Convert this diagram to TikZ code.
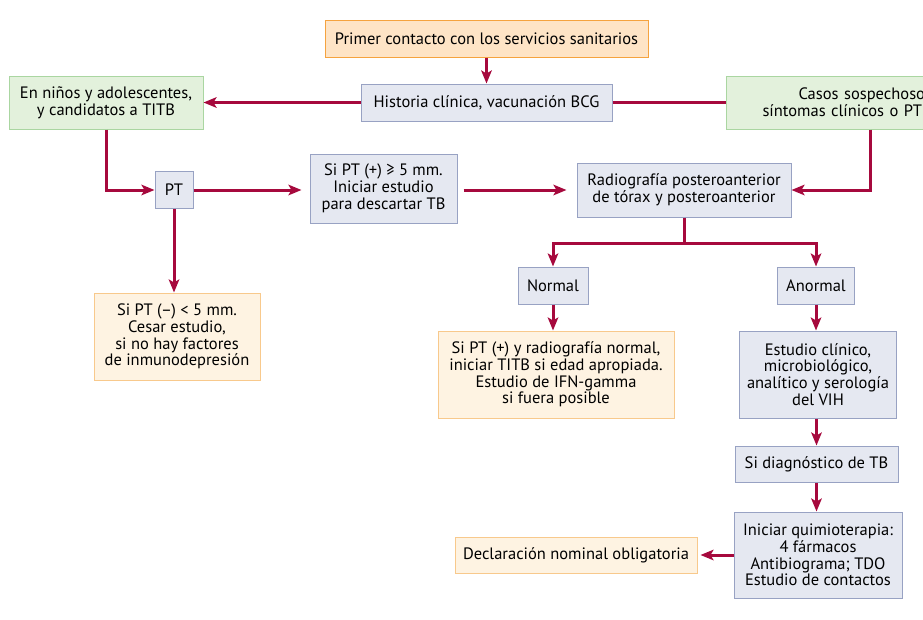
\documentclass[tikz,border=0pt]{standalone}
\usepackage{fontspec}
\setmainfont{PT Sans}
\usetikzlibrary{arrows.meta, positioning}

\definecolor{linkred}{HTML}{A6093D}
\definecolor{bluefill}{HTML}{E5E8F1}
\definecolor{blueline}{HTML}{98A2C3}
\definecolor{orangefill}{HTML}{FEE4C6}
\definecolor{orangeline}{HTML}{F5A33F}
\definecolor{creamfill}{HTML}{FEF3E2}
\definecolor{creamline}{HTML}{F8C98C}
\definecolor{greenfill}{HTML}{E3F1DC}
\definecolor{greenline}{HTML}{AAD6A1}

\tikzset{
    box/.style={line width=1pt, inner sep=0pt, align=center, font=\fontsize{16.5}{16.8}\selectfont},
    bluebox/.style={box, draw=blueline, fill=bluefill},
    orangebox/.style={box, draw=orangeline, fill=orangefill},
    creambox/.style={box, draw=creamline, fill=creamfill},
    greenbox/.style={box, draw=greenline, fill=greenfill},
    link/.style={draw=linkred, line width=3pt, -{Stealth[length=13pt,width=10.5pt,inset=3pt]}},
    plain/.style={draw=linkred, line width=3pt},
}

\begin{document}
\begin{tikzpicture}[x=1pt, y=-1pt]
    \useasboundingbox (0,0) rectangle (923,619);
    \clip (0,0) rectangle (923,619);

    % Top row
    \node[orangebox, minimum width=323, minimum height=37] (primer) at (486.5,38.5) {Primer contacto con los servicios sanitarios};
    \node[bluebox, minimum width=251, minimum height=37] (historia) at (486.5,102.5) {Historia clínica, vacunación BCG};
    \node[greenbox, minimum width=194, minimum height=53] (ninos) at (106,102.5) {En niños y adolescentes,\\y candidatos a TITB};
    \node[greenbox, anchor=west, text width=240, inner xsep=36, minimum height=53, align=left] (casos) at (726,102.5) {\hspace*{36pt}Casos sospechosos\\síntomas clínicos o PT};

    % Middle row
    \node[bluebox, minimum width=38, minimum height=37] (pt) at (174,190) {PT};
    \node[bluebox, minimum width=147, minimum height=69] (sipt) at (383.5,188.5) {Si PT (+) ≥ 5 mm.\\Iniciar estudio\\para descartar TB};
    \node[bluebox, minimum width=214, minimum height=54] (radio) at (684,190) {Radiografía posteroanterior\\de tórax y posteroanterior};
    \node[creambox, minimum width=166, minimum height=87] (negativo) at (177,336.5) {Si PT (–) < 5 mm.\\Cesar estudio,\\si no hay factores\\de inmunodepresión};

    % Lower right
    \node[bluebox, minimum width=70, minimum height=37] (normal) at (553,285.5) {Normal};
    \node[bluebox, minimum width=77, minimum height=37] (anormal) at (816,285.5) {Anormal};
    \node[creambox, minimum width=236, minimum height=87] (titb) at (556,374.5) {Si PT (+) y radiografía normal,\\iniciar TITB si edad apropiada.\\Estudio de IFN-gamma\\si fuera posible};
    \node[bluebox, minimum width=157, minimum height=87] (estudio) at (818,374.5) {Estudio clínico,\\microbiológico,\\analítico y serología\\del VIH};
    \node[bluebox, minimum width=163, minimum height=36] (diag) at (816.5,464) {Si diagnóstico de TB};
    \node[bluebox, minimum width=168, minimum height=86] (quimio) at (818,555) {Iniciar quimioterapia:\\4 fármacos\\Antibiograma; TDO\\Estudio de contactos};
    \node[creambox, minimum width=242, minimum height=36] (decl) at (576,555) {Declaración nominal obligatoria};

    % Connectors
    \draw[link] (primer) -- (historia);
    \draw[link] (historia) -- (ninos);
    \draw[plain] (historia) -- (casos.west |- historia);
    \draw[link] (ninos.south) |- (pt.west);
    \draw[link, shorten >=8pt] (pt.east) -- (pt -| sipt.west);
    \draw[link, shorten <=6pt, shorten >=10pt] (sipt.east |- radio) -- (radio);
    \draw[link] ([xshift=144]casos.south west) |- (radio.east);
    \draw[link] (pt) -- (pt |- negativo.north);
    \draw[plain] (radio.south) -- ++(0,26) coordinate (split);
    \draw[link] ([xshift=1.5]split) -| (normal);
    \draw[link] ([xshift=-1.5]split) -| (anormal);
    \draw[link] (normal) -- (normal |- titb.north);
    \draw[link] (anormal) -- (anormal |- estudio.north);
    \draw[link] (estudio.south -| diag) -- (diag);
    \draw[link] (diag) -- (diag |- quimio.north);
    \draw[link, shorten >=3pt] (quimio) -- (decl);
\end{tikzpicture}
\end{document}
